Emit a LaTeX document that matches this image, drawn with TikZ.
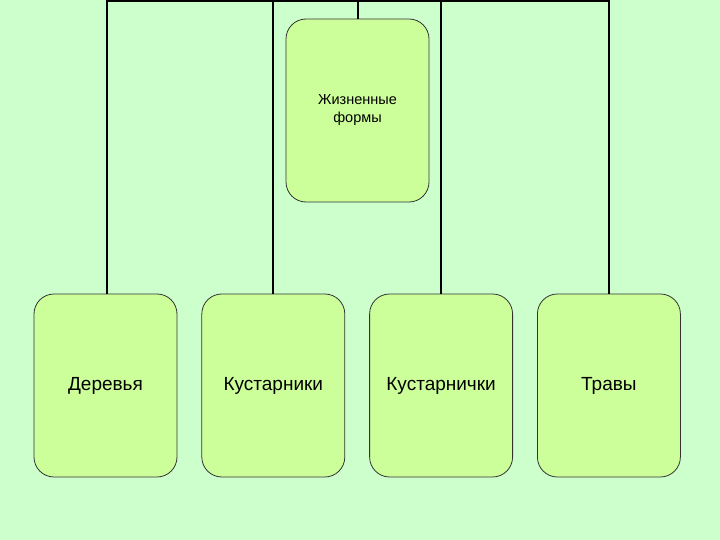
\documentclass[tikz,border=0pt]{standalone}
\usepackage{fontspec}
\setmainfont{Liberation Sans}
\usetikzlibrary{positioning}
\definecolor{bgreen}{HTML}{CCFFCC}
\definecolor{boxgreen}{HTML}{CCFF99}

\begin{document}
\begin{tikzpicture}[x=1pt,y=-1pt]
        \fill[bgreen] (0,0) rectangle (720,540);
        \useasboundingbox (0,0) rectangle (720,540);
        \begin{scope}[line width=2pt,node distance=24pt, main node/.style={rectangle,rounded corners=20pt,fill=boxgreen,draw=black!80,line width=0.8pt,minimum width=143pt,minimum height=183pt,align=center,font=\fontsize{19}{22}\selectfont}]
        \node[main node,font=\fontsize{14.5}{18}\selectfont] (top) at (357.5,110.5) {Жизненные\\формы};
        \node[main node] (1) at (105.5,385.5) {Деревья};
        \node[main node] (2) [right=of 1] {Кустарники};
        \node[main node] (3) [right=of 2] {Кустарнички};
        \node[main node] (4) [right=of 3] {Травы};
        \coordinate (bar) at (357.5,1);
        \draw (top.north) -- (bar);
        \draw (1.north -| 107,0) |- (bar) -| (4.north);
        \draw (2.north) -- (2.north |- bar);
        \draw (3.north) -- (3.north |- bar);
        \end{scope}
    \end{tikzpicture}
\end{document}
